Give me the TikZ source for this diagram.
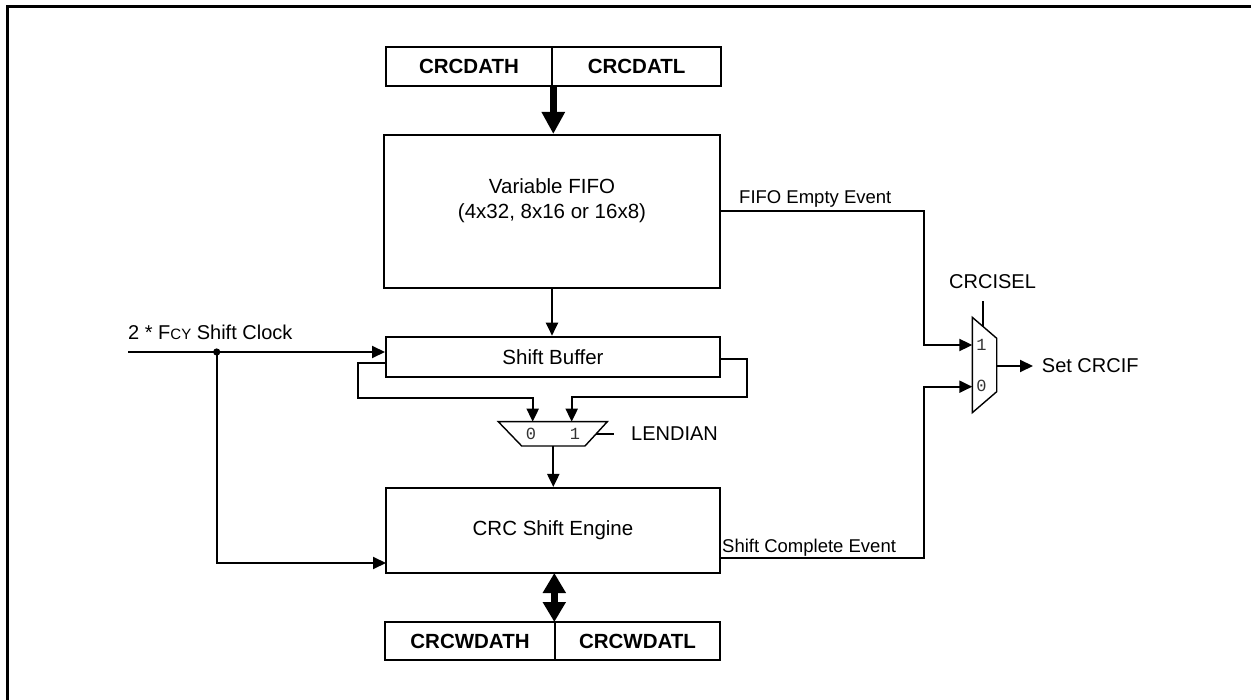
\documentclass[tikz,border=0pt]{standalone}
\usepackage{fontspec}
\setmainfont{Liberation Sans}
\newfontfamily\muxfont{Liberation Mono}
\usetikzlibrary{arrows.meta}
\tikzset{
  box/.style={draw, line width=2pt, inner sep=0pt, font=\fontsize{20.5}{25}\selectfont},
  regbox/.style={box, font=\fontsize{20.5}{25}\selectfont\bfseries},
  arr/.style={line width=2pt, -{Triangle[length=13pt,width=12pt]}},
  wire/.style={line width=2pt},
  muxline/.style={line width=1.4pt, line join=miter},
  lbl/.style={inner sep=0pt, anchor=base west, font=\fontsize{20}{24}\selectfont},
  evlbl/.style={inner sep=0pt, anchor=base west, font=\fontsize{18.5}{22}\selectfont},
  muxlbl/.style={inner sep=0pt, text=black!80, font=\fontsize{17}{20}\muxfont},
  bigarr/.style={line width=6.5pt, -{Triangle[length=22pt,width=22pt]}},
  dblarr/.style={line width=7.5pt, {Triangle[length=20pt,width=22pt]}-{Triangle[length=20pt,width=22pt]}}
}
\begin{document}
\begin{tikzpicture}[x=1pt,y=-1pt]
\useasboundingbox (0,0) rectangle (1251,700);
\draw[line width=3pt] (7,700) -- (7,7) -- (1251,7);

% registers on top
\node[regbox, minimum width=166.6pt, minimum height=39pt] (dath) at (469,66.2) {CRCDATH};
\node[regbox, minimum width=168.7pt, minimum height=39pt] (datl) at (636.6,66.2) {CRCDATL};

% FIFO
\node[box, minimum width=336pt, minimum height=153pt] (fifo) at (552,211.5) {};
\node[inner sep=0pt, align=center, font=\fontsize{20.5}{25}\selectfont] (fifotxt) at (552,201) {Variable FIFO\\(4x32, 8x16 or 16x8)};

% shift buffer
\node[box, minimum width=334pt, minimum height=40pt] (sb) at (553,356.7) {Shift Buffer};

% CRC shift engine
\node[box, minimum width=334pt, minimum height=85pt] (eng) at (553,530.5) {CRC Shift Engine};

% result registers
\node[regbox, minimum width=170pt, minimum height=38pt] (wdath) at (470,641) {CRCWDATH};
\node[regbox, minimum width=165pt, minimum height=38pt] (wdatl) at (637.5,641) {CRCWDATL};

% thick arrows
\draw[bigarr] (dath.south east) -- (dath.south east |- fifo.north);
\draw[dblarr] (554.3,573) -- (554.3,622);

% FIFO -> shift buffer
\draw[arr] (fifo.south) -- (fifo.south |- sb.north);

% LENDIAN mux
\coordinate (lmtl) at (498.3,421.7);
\coordinate (lmtr) at (607.3,421.7);
\coordinate (lmbr) at (585,446);
\coordinate (lmbl) at (521.7,446);
\draw[muxline] (lmtl) -- (lmtr) -- (lmbr) -- (lmbl) -- cycle;
\node[muxlbl] (l0) at (531,434) {0};
\node[muxlbl] (l1) at (575,434) {1};
\coordinate (lin0) at (532.7,421.7);
\coordinate (lin1) at (571.7,421.7);
\coordinate (lout) at (553.3,446);
\coordinate (lsel) at (596,434);
\draw[wire] (lsel) -- (614,434);
\node[lbl, anchor=west] (lendian) at (631,434) {LENDIAN};

% feedbacks
\draw[arr] ([yshift=-6pt]sb.west) -- (357.7,362.7) -- (357.7,398.3) -| (lin0);
\draw[arr] ([yshift=-2.3pt]sb.east) -- (747.3,359) -- (747.3,396.7) -| (lin1);

% mux -> engine
\draw[arr] (lout) -- (lout |- eng.north);

% clock
\coordinate (clk) at (128,352);
\coordinate (dot) at (216.7,352);
\coordinate (eclk) at (386,563);
\node[lbl] (clktxt) at (128,340) {2 * F{\fontsize{15}{18}\selectfont CY} Shift Clock};
\draw[arr] (clk) -- (clk -| sb.west);
\fill (dot) circle (3.6pt);
\draw[arr] (dot) |- (eclk);

% CRCISEL mux
\coordinate (mtl) at (972.3,317.3);
\coordinate (mtr) at (996.7,338.3);
\coordinate (mbr) at (996.7,391.7);
\coordinate (mbl) at (972.3,412.7);
\draw[muxline] (mtl) -- (mtr) -- (mbr) -- (mbl) -- cycle;
\node[muxlbl] (m1) at (981.5,345) {1};
\node[muxlbl] (m0) at (981.5,386) {0};
\coordinate (min1) at (972.3,345);
\coordinate (min0) at (972.3,386.7);
\coordinate (mout) at (996.7,366);
\coordinate (msel) at (982.7,326.3);
\draw[wire] (msel) -- (982.7,300.7);
\node[lbl] (crcisel) at (949,288.3) {CRCISEL};
\draw[arr] (mout) -- (1033,366);
\node[lbl, anchor=west] (setcrcif) at (1041.7,366) {Set CRCIF};

% events
\draw[arr] ([yshift=0.8pt]fifo.east) -- (924,210.7) |- (min1);
\node[evlbl] (fee) at (739,204) {FIFO Empty Event};
\draw[arr] ([yshift=-27.5pt]eng.east) -- (924,558) |- (min0);
\node[evlbl] (sce) at (722,552) {Shift Complete Event};
\end{tikzpicture}
\end{document}
